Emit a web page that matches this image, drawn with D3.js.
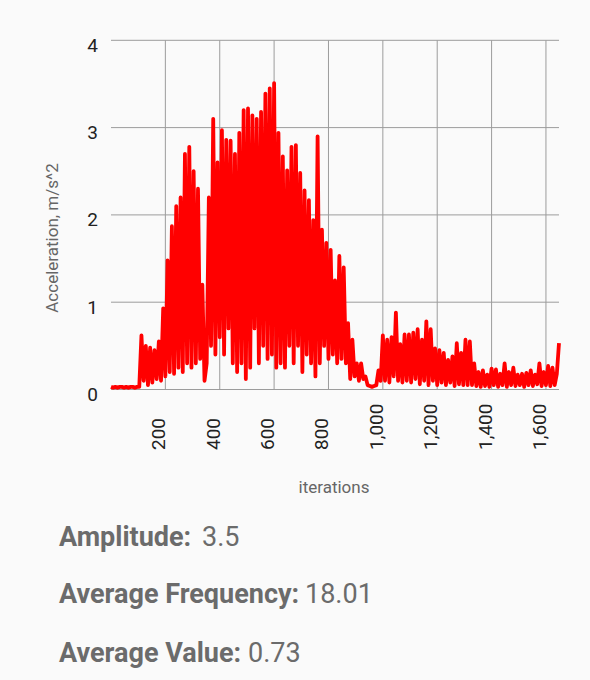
<!DOCTYPE html>
<html>
<head>
<meta charset="utf-8">
<script src="https://cdn.jsdelivr.net/npm/d3@7"></script>
<style>
  html, body { margin: 0; padding: 0; background: #fafafa; }
  svg { display: block; }
  text { font-family: Roboto, "Noto Sans", sans-serif; }
</style>
</head>
<body>
<svg id="chart" width="590" height="680"></svg>
<script>
// ---- data ----
const iterationStep = 8;           // one sample every 8 iterations
const acceleration = [
  0.03,0.02,0.03,0.02,0.03,0.03,0.02,0.03,0.02,0.03,0.03,0.02,0.03,0.03,
  0.62,0.1,0.5,0.05,0.48,0.08,0.45,0.12,0.55,0.1,
  0.93,0.15,1.48,0.2,1.87,0.18,2.1,0.25,2.2,0.2,
  2.7,0.3,2.78,0.25,2.5,0.3,2.3,0.35,1.2,0.1,
  0.3,2.2,0.5,3.1,0.4,2.6,0.6,2.97,0.4,2.86,
  0.7,2.85,0.3,2.7,0.2,2.94,0.3,3.2,0.12,3.22,
  0.25,3.14,0.7,3.1,0.3,3.18,0.5,3.39,0.35,3.45,
  0.4,3.51,0.25,2.94,0.3,2.67,0.25,2.51,0.5,2.78,
  0.3,2.8,0.5,2.48,0.2,2.28,0.4,2.17,0.3,1.94,
  0.15,2.9,0.3,1.83,0.5,1.68,0.35,1.6,0.4,1.25,
  0.3,1.53,0.35,1.4,0.3,0.76,0.12,0.57,0.15,0.3,
  0.1,0.3,0.12,0.15,0.05,0.04,0.03,0.04,0.05,0.22,
  0.1,0.62,0.1,0.57,0.08,0.6,0.15,0.88,0.1,0.52,
  0.08,0.63,0.1,0.63,0.08,0.65,0.12,0.69,0.06,0.57,
  0.1,0.78,0.05,0.69,0.1,0.47,0.05,0.45,0.08,0.42,
  0.05,0.34,0.08,0.38,0.04,0.53,0.06,0.42,0.05,0.57,
  0.05,0.55,0.05,0.3,0.04,0.2,0.03,0.22,0.04,0.17,
  0.03,0.24,0.05,0.23,0.03,0.18,0.05,0.3,0.03,0.2,
  0.05,0.25,0.04,0.17,0.05,0.18,0.03,0.19,0.05,0.22,
  0.04,0.17,0.06,0.3,0.04,0.2,0.05,0.27,0.04,0.25,
  0.05,0.18,0.53
];
const xTickValues = [200, 400, 600, 800, 1000, 1200, 1400, 1600];
const yTickValues = [0, 1, 2, 3, 4];
const yTitle = "Acceleration, m/s^2";
const xTitle = "iterations";
const statLabels = ["Amplitude:", "Average Frequency:", "Average Value:"];
const statValues = ["3.5", "18.01", "0.73"];

// ---- layout ----
const plot = { left: 111, right: 559, top: 40.3, bottom: 389.5 };
const svg = d3.select("#chart");

const series = acceleration.map((v, i) => ({ it: i * iterationStep, v }));

const x = d3.scaleLinear()
  .domain(d3.extent(series, d => d.it))
  .range([plot.left, plot.right]);
const y = d3.scaleLinear()
  .domain([0, 4])
  .range([plot.bottom, plot.top]);

const gridColor = "#9c9c9c";

// horizontal gridlines
svg.append("g").selectAll("line").data(yTickValues).join("line")
  .attr("x1", plot.left).attr("x2", plot.right)
  .attr("y1", d => y(d)).attr("y2", d => y(d))
  .attr("stroke", gridColor).attr("stroke-width", 1);

// vertical gridlines
svg.append("g").selectAll("line").data(xTickValues).join("line")
  .attr("x1", d => x(d)).attr("x2", d => x(d))
  .attr("y1", plot.top).attr("y2", plot.bottom)
  .attr("stroke", gridColor).attr("stroke-width", 1);

// y tick labels
svg.append("g").selectAll("text").data(yTickValues).join("text")
  .attr("x", 98).attr("y", d => y(d) + 11.5)
  .attr("text-anchor", "end")
  .attr("font-size", 19).attr("fill", "#222")
  .text(d => d);

// x tick labels (rotated)
const fmt = d3.format(",");
svg.append("g").selectAll("text").data(xTickValues).join("text")
  .attr("transform", d => `translate(${x(d)},450) rotate(-90)`)
  .attr("text-anchor", "start")
  .attr("font-size", 19).attr("fill", "#222")
  .text(d => fmt(d));

// axis titles
svg.append("text")
  .attr("transform", "translate(52,238) rotate(-90)")
  .attr("text-anchor", "middle").attr("dominant-baseline", "central")
  .attr("font-size", 17).attr("fill", "#666")
  .text(yTitle);
svg.append("text")
  .attr("x", 334).attr("y", 493)
  .attr("text-anchor", "middle")
  .attr("font-size", 17).attr("fill", "#666")
  .text(xTitle);

// data line
const line = d3.line().x(d => x(d.it)).y(d => y(d.v));
svg.append("path")
  .datum(series)
  .attr("d", line)
  .attr("fill", "none")
  .attr("stroke", "#ff0000")
  .attr("stroke-width", 3.8)
  .attr("stroke-linejoin", "round");

// stats text
const statBaselines = [546, 603, 662];
const valueX = [202, 305, 248];
statLabels.forEach((lab, i) => {
  svg.append("text")
    .attr("x", 59).attr("y", statBaselines[i])
    .attr("font-size", 27).attr("font-weight", "bold").attr("fill", "#6b6b6b")
    .text(lab);
  svg.append("text")
    .attr("x", valueX[i]).attr("y", statBaselines[i])
    .attr("font-size", 27).attr("fill", "#6b6b6b")
    .text(statValues[i]);
});
</script>
</body>
</html>
